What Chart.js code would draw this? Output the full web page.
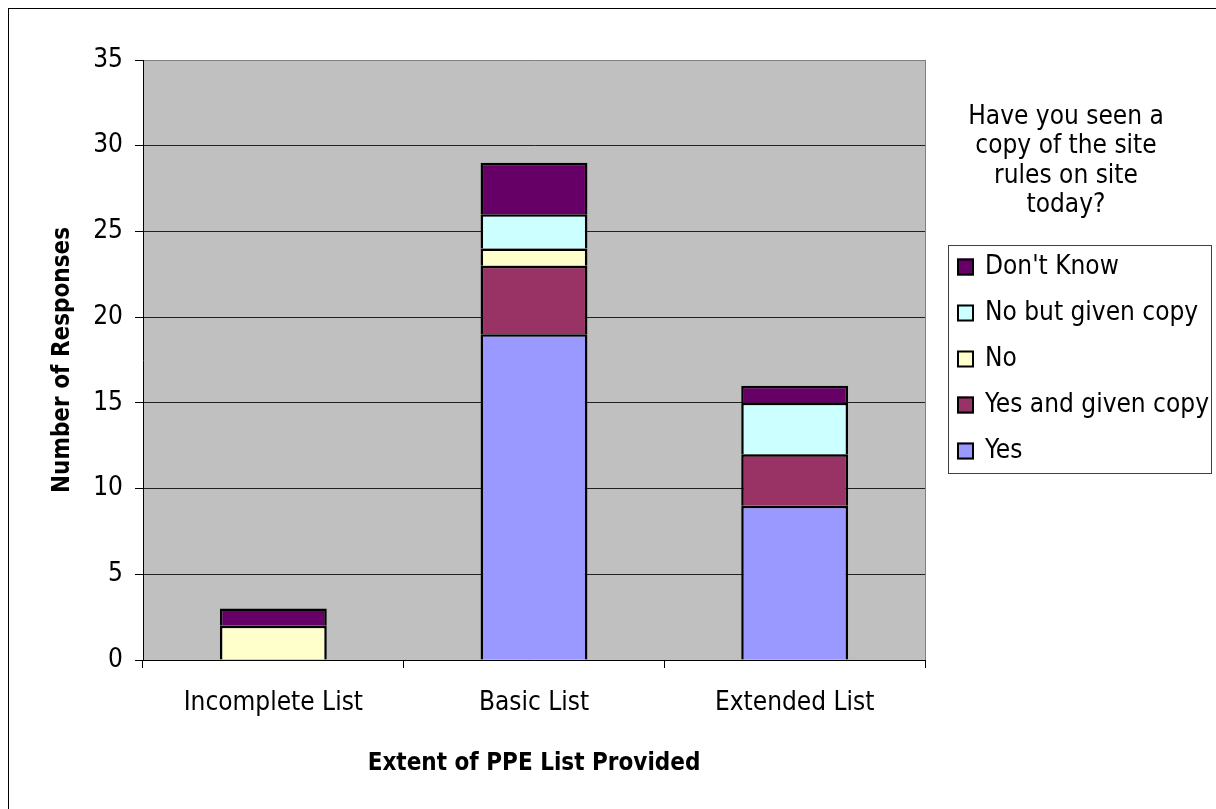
<!DOCTYPE html>
<html>
<head>
<meta charset="utf-8">
<script src="https://cdn.jsdelivr.net/npm/chart.js@4"></script>
<style>
  html, body { margin: 0; padding: 0; background: #ffffff; }
  #wrap { width: 1216px; height: 809px; }
</style>
</head>
<body>
<div id="wrap"><canvas id="c" width="1216" height="809"></canvas></div>
<script>
// Categories along the x axis
const categories = ['Incomplete List', 'Basic List', 'Extended List'];

// Responses per answer, one value per category
const yesValues            = [0, 19, 9];
const yesGivenCopyValues   = [0, 4, 3];
const noValues             = [2, 1, 0];
const noButGivenCopyValues = [0, 2, 3];
const dontKnowValues       = [1, 3, 1];

// Answer labels and their fills
const seriesLabels = ['Yes', 'Yes and given copy', 'No', 'No but given copy', "Don't Know"];
const seriesColors = ['#9999FF', '#993366', '#FFFFCC', '#CCFFFF', '#660066'];

// Value axis ticks
const yTicks = [0, 5, 10, 15, 20, 25, 30, 35];

// Texts
const xAxisTitle = 'Extent of PPE List Provided';
const yAxisTitle = 'Number of Responses';
const legendTitleLines = ['Have you seen a', 'copy of the site', 'rules on site', 'today?'];

const FONT = "'DejaVu Sans Condensed', 'DejaVu Sans', sans-serif";
Chart.defaults.font.family = FONT;
Chart.defaults.color = '#000000';

const seriesValues = [yesValues, yesGivenCopyValues, noValues, noButGivenCopyValues, dontKnowValues];

// Grey plot background, outer frame and right plot edge
const frame = {
  id: 'frame',
  beforeDraw(chart) {
    const { ctx, chartArea: a } = chart;
    ctx.save();
    ctx.fillStyle = '#ffffff';
    ctx.fillRect(0, 0, chart.width, chart.height);
    ctx.fillStyle = '#C0C0C0';
    ctx.fillRect(a.left, a.top, a.right - a.left, a.bottom - a.top);
    ctx.strokeStyle = '#000000';
    ctx.lineWidth = 1;
    ctx.strokeRect(8.5, 8.5, chart.width + 20, chart.height + 20);
    ctx.restore();
  },
  afterDatasetsDraw(chart) {
    const { ctx, chartArea: a } = chart;
    ctx.save();
    ctx.strokeStyle = '#808080';
    ctx.lineWidth = 1;
    ctx.beginPath();
    ctx.moveTo(Math.round(a.right) + 0.5, a.top);
    ctx.lineTo(Math.round(a.right) + 0.5, a.bottom);
    ctx.stroke();
    ctx.restore();
  }
};

// Boxed legend with a title above it, entries listed top-down from the last series
const sideLegend = {
  id: 'sideLegend',
  afterDraw(chart) {
    const { ctx } = chart;
    const titleX = 1066, titleY0 = 117, titleStep = 29.5;
    const boxL = 948, boxT = 245, boxR = 1211, boxB = 473;
    const itemY0 = 267, itemStep = 46, swX = 957, sw = 17, textX = 985;
    ctx.save();
    ctx.font = '26px ' + FONT;
    ctx.fillStyle = '#000000';
    ctx.textAlign = 'center';
    ctx.textBaseline = 'middle';
    legendTitleLines.forEach((t, i) => ctx.fillText(t, titleX, titleY0 + i * titleStep));

    ctx.fillStyle = '#ffffff';
    ctx.fillRect(boxL, boxT, boxR - boxL, boxB - boxT);
    ctx.strokeStyle = '#404040';
    ctx.lineWidth = 1;
    ctx.strokeRect(boxL + 0.5, boxT + 0.5, boxR - boxL, boxB - boxT);

    const ds = chart.data.datasets.slice().reverse();
    ctx.textAlign = 'left';
    ds.forEach((d, i) => {
      const cy = itemY0 + i * itemStep;
      ctx.fillStyle = d.backgroundColor;
      ctx.fillRect(swX, cy - sw / 2, sw, sw);
      ctx.strokeStyle = '#000000';
      ctx.lineWidth = 2;
      ctx.strokeRect(swX + 1, cy - sw / 2 + 1, sw - 2, sw - 2);
      ctx.fillStyle = '#000000';
      ctx.fillText(d.label, textX, cy);
    });
    ctx.restore();
  }
};

new Chart(document.getElementById('c'), {
  type: 'bar',
  data: {
    labels: categories,
    datasets: seriesLabels.map((label, i) => ({
      label,
      data: seriesValues[i],
      backgroundColor: seriesColors[i],
      borderColor: '#000000',
      borderWidth: 2.5,
      barPercentage: 1,
      categoryPercentage: 0.41
    }))
  },
  options: {
    responsive: false,
    devicePixelRatio: 1,
    animation: false,
    events: [],
    layout: { padding: { left: 0, top: 60, right: 291, bottom: 0 } },
    plugins: {
      legend: { display: false },
      tooltip: { enabled: false }
    },
    scales: {
      x: {
        stacked: true,
        grid: { offset: true, drawOnChartArea: false, drawTicks: true, tickLength: 8, color: '#000000' },
        border: { display: true, color: '#000000', width: 1 },
        ticks: { font: { size: 26 }, color: '#000000', padding: 20, maxRotation: 0 },
        title: {
          display: true, text: xAxisTitle, color: '#000000',
          font: { size: 24, weight: 'bold' }, padding: { top: 0, bottom: 31 }
        },
        afterFit(s) { s.height = 149; }
      },
      y: {
        stacked: true,
        min: 0,
        max: 35,
        afterBuildTicks(s) { s.ticks = yTicks.map(v => ({ value: v })); },
        grid: {
          color: c => (c.tick && c.tick.value === 35 ? '#808080' : '#202020'),
          tickColor: '#000000',
          tickLength: 8,
          drawTicks: true
        },
        border: { display: true, color: '#000000', width: 1 },
        ticks: { font: { size: 26 }, color: '#000000', padding: 12 },
        title: {
          display: true, text: yAxisTitle, color: '#000000',
          font: { size: 24, weight: 'bold' }, padding: { top: 48, bottom: 0 }
        },
        afterFit(s) { s.width = 143; }
      }
    }
  },
  plugins: [frame, sideLegend]
});
</script>
</body>
</html>
